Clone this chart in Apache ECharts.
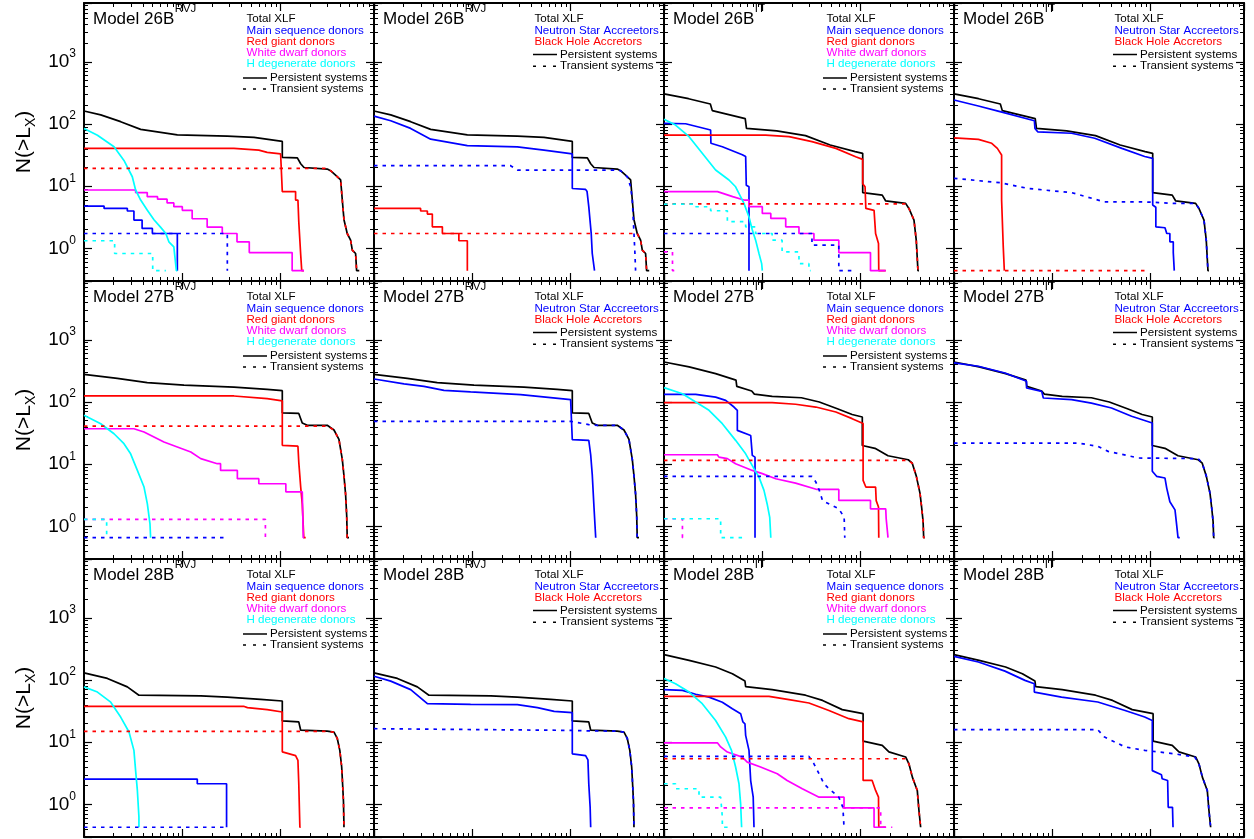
<!DOCTYPE html>
<html><head><meta charset="utf-8">
<script src="https://cdn.jsdelivr.net/npm/echarts@6/dist/echarts.min.js"></script>
<style>html,body{margin:0;padding:0;background:#fff}#c{width:1254px;height:839px}</style>
</head><body><div id="c"></div>
<script>
// ---------- axis extents / tick labels ----------
const xRange = [1, 891];
const yRange = [0.3, 8800];
const yTickExps = [0, 1, 2, 3];

// ---------- panel titles & legend texts ----------
const panelTitles = [
  ['Model 26B','RVJ'],['Model 26B','RVJ'],['Model 26B','IT'],['Model 26B','IT'],
  ['Model 27B','RVJ'],['Model 27B','RVJ'],['Model 27B','IT'],['Model 27B','IT'],
  ['Model 28B','RVJ'],['Model 28B','RVJ'],['Model 28B','IT'],['Model 28B','IT']
];
const donorLegend = ['Total XLF','Main sequence donors','Red giant donors','White dwarf donors','H degenerate donors'];
const accretorLegend = ['Total XLF','Neutron Star Accreetors','Black Hole Accretors'];
const styleLegend = ['Persistent systems','Transient systems'];

// ---------- data: [L_X (arb. units), N(>L_X)] ----------
// Model 26B RVJ
const tot26R = [[1,162],[1.48,140],[2.36,109],[3.77,82],[8.9,67],[28.7,64],[53.6,61],[104,52.5],[104,29],[148,28.5],[160,23],[173,20],[298,18.9],[322,17.8],[362,15.1],[408,12.6],[424,6.0],[441,2.9],[476,1.74],[515,1.36],[536,0.94],[579,0.83],[593,0.44],[630,0.44]];
const ms26R_P = [[1,4.8],[1.6,4.8],[1.6,4.4],[2.76,4.4],[2.76,4.0],[3.22,4.0],[3.22,2.86],[3.9,2.86],[3.9,2.1],[4.96,2.1],[4.96,1.74],[8.9,1.74],[8.9,0.44],[9.0,0.44]];
const ms26R_T = [[1,1.74],[28.7,1.74],[28.7,0.44]];
const rg26R_P = [[1,40.6],[33.5,40.6],[60,38],[73,35],[100,33],[104,32.5],[104,8.2],[142,8.2],[142,6.0],[150,6.0],[153,2.7],[160,0.8],[164,0.44],[173,0.44]];
const rg26R_T = [[1,19.4],[298,19.4],[322,17.8],[362,15.1],[408,12.6],[424,6.0],[441,2.9],[476,1.74],[515,1.36],[536,0.94],[579,0.83],[593,0.44],[630,0.44]];
const wd26R_P = [[1,8.7],[3.35,8.7],[3.35,7.9],[4.4,7.9],[4.4,6.8],[5.6,6.8],[5.6,6.2],[7.0,6.2],[7.0,5.4],[8.2,5.4],[8.2,4.7],[10,4.7],[10,4.1],[12.6,4.1],[12.6,3.0],[17.9,3.0],[17.9,2.2],[25.5,2.2],[25.5,1.74],[36,1.74],[36,1.28],[48,1.28],[48,0.86],[131,0.86],[131,0.44],[173,0.44]];
const hd26R_P = [[1,85],[1.37,66],[2.02,43],[2.55,26],[3.10,14.2],[3.35,8.7],[3.77,6.0],[4.41,4.1],[5.15,2.9],[6.0,2.2],[6.8,1.74],[7.3,1.28],[8.2,1.06],[8.55,0.57],[8.7,0.44],[8.9,0.44]];
const hd26R_T = [[1,1.33],[2.05,1.33],[2.05,0.83],[5.0,0.83],[5.0,0.44],[6.8,0.44]];
const ns26R_P = [[1,134],[1.48,113],[2.36,85],[3.77,57],[8.9,45],[28.7,43],[53.6,38],[104,33],[104,9.2],[142,8.9],[147,8.2],[153,4.7],[162,1.74],[166,0.83],[175,0.44]];
const ns26R_T = [[1,21.4],[24.5,21.4],[28.7,18.2],[298,18.2],[322,17.8],[377,14.2],[408,9.8],[424,6.0],[441,1.74],[451,0.83],[458,0.44]];
const bh26R_P = [[1,4.4],[2.98,4.4],[2.98,4.0],[3.49,4.0],[3.49,3.57],[3.92,3.57],[3.92,2.23],[4.96,2.23],[4.96,1.74],[7.3,1.74],[7.3,1.33],[8.9,1.33],[8.9,0.44]];
const bh26R_T = [[1,1.74],[476,1.74],[515,1.36],[536,0.94],[579,0.83],[593,0.44],[630,0.44]];

// Model 26B IT
const tot26I = [[1,304],[1.78,255],[2.96,210],[3.1,164],[6.7,122],[6.9,85],[14,77.6],[27.5,65],[49,46],[88,36],[105,33.8],[105,7.9],[166,7.2],[180,5.8],[287,5.3],[310,4.4],[349,2.86],[368,1.36],[383,0.44],[392,0.44]];
const ms26I_P = [[1,102],[1.66,101],[2.98,80],[3.0,49],[3.92,43],[6.26,32],[6.77,30],[6.87,10.4],[7.32,9.8],[7.32,0.44]];
const ms26I_T = [[1,1.74],[32,1.74],[32,1.13],[60,1.13],[60,0.44],[89,0.44]];
const rg26I_P = [[1,66.5],[10.8,66.5],[18.7,62.6],[32,52],[56,40.6],[89,29.8],[105,27],[105,11],[111,9.8],[113,4.4],[137,4.1],[142,1.74],[152,1.2],[153,0.44],[180,0.44]];
const rg26I_T = [[1,5.2],[287,5.2],[310,4.4],[349,2.86],[368,1.36],[383,0.44],[392,0.44]];
const wd26I_P = [[1,8.2],[3.5,8.2],[5.0,6.8],[6.5,6.0],[7.3,6.0],[7.3,4.7],[10,4.7],[10,3.66],[12.2,3.66],[12.2,3.04],[17.3,3.04],[17.3,2.23],[23.6,2.23],[23.6,1.74],[33.5,1.74],[33.5,1.36],[60,1.36],[60,0.86],[126,0.86],[126,0.44],[180,0.44]];
const wd26I_T = [[1,0.88],[1.22,0.88],[1.22,0.44],[1.37,0.44]];
const hd26I_P = [[1,119],[1.31,96],[1.8,62.6],[2.45,33.8],[3.35,18.2],[4.58,12.6],[5.35,9.8],[6.51,5.3],[7.32,3.2],[7.9,2.0],[8.55,1.36],[9.25,0.83],[9.85,0.57],[10,0.44]];
const hd26I_T = [[1,5.17],[2.1,5.17],[2.1,4.68],[2.98,4.68],[2.98,4.04],[4.41,4.04],[4.41,2.69],[6.77,2.69],[6.77,2.23],[8.55,2.23],[8.55,1.74],[12.6,1.74],[12.6,1.36],[15.9,1.36],[15.9,0.88],[23.6,0.88],[23.6,0.57],[29.8,0.57],[29.8,0.44],[31,0.44]];
const ns26I_P = [[1,243],[1.77,195],[2.94,158],[3.05,148],[6.57,113],[6.66,85],[7.1,75],[15.7,71],[27,59],[51,40.6],[87,30],[105,28],[105,5.0],[113,4.6],[113,2.23],[140,2.15],[146,1.74],[157,1.74],[157,1.28],[170,1.28],[170,0.86],[174,0.86],[174,0.44]];
const ns26I_T = [[1,13.4],[2.94,11.4],[5.7,9.2],[15.7,7.9],[34,5.6],[87,5.6],[177,5.3],[287,5.3],[310,4.4],[349,2.86],[368,1.36],[383,0.44],[392,0.44]];
const bh26I_P = [[1,60],[1.77,56.7],[2.42,49],[2.76,40.6],[3.05,31.7],[3.05,6.0],[3.17,1.06],[3.25,0.44]];
const bh26I_T = [[1,0.44],[87,0.44]];

// Model 27B RVJ
const tot27R = [[1,278],[2.18,240],[4.4,205],[10.4,187],[33.5,174],[73,160],[104,152],[104,67],[153,65.5],[166,46],[187,42.2],[298,42.2],[349,35.5],[392,25],[424,12],[441,6.5],[458,3.3],[470,1.5],[476,0.66],[496,0.66]];
const rg27R_P = [[1,125],[33.5,125],[73,113],[104,104],[104,20.1],[150,19.5],[153,10.8],[160,4.3],[166,2.3],[172,0.66],[180,0.66]];
const rg27R_T = [[1,41],[298,41],[349,35.5],[392,25],[424,12],[441,6.5],[458,3.3],[470,1.5],[476,0.66],[496,0.66]];
const wd27R_P = [[1,37.2],[3.22,37.2],[4.08,32.9],[5.15,27.4],[6.5,22.7],[8.9,18.9],[12.2,15.7],[15.4,12.3],[22.7,10.2],[24.5,10.2],[24.5,7.95],[36.3,7.95],[36.3,5.85],[60,5.85],[60,4.86],[113,4.86],[113,3.6],[166,3.6],[170,0.66],[173,0.66]];
const wd27R_T = [[1,1.30],[70,1.30],[70,0.66]];
const hd27R_P = [[1,61],[1.48,44.8],[2.02,30.9],[2.55,21.4],[2.98,14.7],[3.49,7.95],[4.08,4.3],[4.41,2.3],[4.69,1.1],[4.76,0.66]];
const hd27R_T = [[1,1.30],[1.70,1.30],[1.70,0.66]];
const ms27R_T = [[1,0.66],[26.5,0.66]];
const ns27R_P = [[1,234],[2.02,195],[3.22,178],[5.15,154],[9.6,145],[31,131],[100,109],[104,109],[104,24.8],[153,24.2],[160,14.2],[166,6.8],[173,2.0],[180,0.66]];
const ns27R_T = [[1,49],[100,49],[153,43.2],[187,42.2],[298,42.2],[349,35.5],[392,25],[424,12],[441,6.5],[458,3.3],[470,1.5],[476,0.66],[496,0.66]];

// Model 27B IT
const tot27I = [[1,440],[1.8,366],[3.35,286],[5.4,225],[5.5,178],[7.8,150],[8.3,134],[12.6,123],[25,117],[38,100],[58,78],[82,63],[104,57.5],[104,20],[140,18],[190,13.7],[305,11.8],[335,10.4],[368,6.5],[402,3.4],[418,2.0],[432,1.2],[438,0.66],[448,0.66]];
const ms27I_P = [[1,133],[2.1,133],[3.35,120],[4.24,106],[5.15,83],[5.57,73.5],[5.57,35],[7.62,29],[7.91,29],[7.91,13.9],[8.23,13],[8.43,13],[8.43,0.66]];
const ms27I_T = [[1,6.36],[32,6.36],[35,5.2],[38,3.8],[41,2.6],[60,1.92],[68,1.41],[69,0.66]];
const rg27I_P = [[1,97.5],[12.6,97.5],[21.8,92],[35,83],[56,69],[82,54],[106,45],[106,5.5],[113,4.3],[142,4.3],[144,2.6],[152,2.05],[153,0.66]];
const rg27I_T = [[1,11.5],[305,11.5],[335,10.4],[368,6.5],[402,3.4],[418,2.0],[432,1.2],[438,0.66],[448,0.66]];
const wd27I_P = [[1,14.2],[3.49,14.2],[3.62,13],[4.41,12.3],[5.35,10.2],[7.91,7.95],[10,7.06],[13.7,5.85],[21.8,4.98],[36,3.93],[60,3.93],[60,2.62],[126,2.62],[126,1.92],[180,1.92],[182,1.33],[190,0.66]];
const wd27I_T = [[1,1.33],[1.54,1.33],[1.54,0.66],[1.73,0.66]];
const hd27I_P = [[1,170],[1.54,136],[2.1,100],[2.87,73.5],[3.92,44.8],[5.35,24.2],[6.77,14.7],[8.23,8.5],[9.25,6.2],[10.4,3.8],[11.2,2.3],[11.9,1.4],[12.2,0.66]];
const hd27I_T = [[1,1.33],[3.77,1.33],[3.77,0.66],[6.5,0.66]];
const ns27I_P = [[1,424],[1.77,375],[3.3,293],[5.47,215],[5.47,168],[7.8,148],[8.1,116],[15.7,109],[25,96],[40,80],[64,59],[104,46],[104,7.7],[115,6.4],[140,6.0],[146,4.1],[157,2.5],[177,1.85],[184,1.06],[190,0.66],[198,0.66]];
const ns27I_T = [[1,21.9],[18.4,21.9],[29,19.4],[37,16.1],[75,12.6],[305,12.3],[335,10.4],[368,6.5],[402,3.4],[418,2.0],[432,1.2],[438,0.66],[448,0.66]];

// Model 28B RVJ
const tot28R = [[1,130],[1.73,106],[2.76,77.6],[3.62,57],[15.4,55.4],[28.7,53],[62.6,49],[104,46],[104,22],[153,21.2],[160,15.6],[298,15.1],[349,14.5],[377,11.5],[400,7.4],[418,4],[428,2],[436,1.1],[441,0.43],[448,0.43]];
const ms28R_P = [[1,2.56],[14.2,2.56],[14.2,2.15],[28.2,2.15],[28.2,0.43]];
const ms28R_T = [[1,0.43],[28.2,0.43]];
const rg28R_P = [[1,37.8],[42,37.8],[46,36],[73,33.4],[104,30.6],[104,7],[142,6.1],[150,5.1],[153,2.15],[157,0.43],[160,0.43]];
const rg28R_T = [[1,14.9],[298,14.9],[349,14.5],[377,11.5],[400,7.4],[418,4],[428,2],[436,1.1],[441,0.43],[448,0.43]];
const hd28R_P = [[1,77.6],[1.37,64],[1.87,44],[2.36,25.4],[2.87,14.6],[3.22,7.4],[3.35,3.5],[3.49,1.68],[3.62,0.63],[3.62,0.43]];
const ns28R_P = [[1,115],[1.48,96],[2.36,70],[3.49,41.6],[9.6,40.6],[28.7,40.2],[46,36],[68,31.3],[104,29.8],[104,6.5],[142,6.1],[150,5.2],[153,2.15],[158,0.9],[160,0.43]];
const ns28R_T = [[1,16.5],[104,15.5],[153,15.2],[298,15.1],[349,14.5],[377,11.5],[400,7.4],[418,4],[428,2],[436,1.1],[441,0.43],[448,0.43]];

// Model 28B IT
const tot28I = [[1,256],[1.8,207],[3.35,162],[4.96,126],[6.66,96],[6.77,78],[12.6,70],[27.5,57],[41,47],[65,33.4],[106,28.8],[106,10.4],[166,8.9],[194,7.0],[287,5.8],[310,4.5],[336,2.75],[377,1.68],[392,0.8],[408,0.43],[412,0.43]];
const ms28I_P = [[1,70],[1.54,68],[2.1,59],[2.87,53],[3.92,44],[4.96,34.5],[6.02,28.8],[6.35,21.2],[6.66,19.8],[6.77,12.9],[7.32,7.4],[7.62,2.4],[8.08,1.31],[8.23,0.43]];
const ms28I_T = [[1,5.92],[29.8,5.92],[33.5,4.5],[37.8,3.1],[42.4,2.15],[47.6,1.79],[60,1.31],[66,0.9],[67.8,0.43]];
const rg28I_P = [[1,54.6],[11.7,54.6],[18.7,48.3],[29.8,42.7],[47.6,32.4],[76,23.9],[106,21.2],[106,2.43],[131,2.43],[142,1.68],[152,1.31],[153,0.43],[180,0.43]];
const rg28I_T = [[1,5.43],[287,5.43],[310,4.5],[336,2.75],[377,1.68],[392,0.8],[408,0.43]];
const wd28I_P = [[1,9.8],[3.49,9.8],[3.77,8.4],[4.41,6.95],[6.26,5.77],[7.03,4.79],[9.6,4.0],[14.2,3.11],[17.9,2.43],[25.5,1.79],[37.8,1.31],[67.8,1.31],[67.8,0.88],[137,0.88],[137,0.43],[180,0.43]];
const wd28I_T = [[1,0.88],[160,0.88],[160,0.43],[210,0.43]];
const hd28I_P = [[1,106],[1.31,87],[1.8,64],[2.45,41.6],[3.35,22.4],[4.24,12.1],[4.86,7.4],[5.35,4.0],[5.79,2.15],[6.02,1.02],[6.16,0.43]];
const hd28I_T = [[1,2.15],[1.31,2.15],[1.31,1.79],[2.27,1.79],[2.27,1.31],[3.77,1.31],[3.92,0.63],[3.92,0.43],[4.96,0.43]];
const ns28I_P = [[1,240],[1.77,195],[3.3,139],[5.27,98.7],[6.56,87],[6.56,64],[12.4,53],[29,44.3],[55,32.4],[87,25.4],[104,22.4],[104,3.5],[129,3.0],[131,2.59],[149,2.43],[151,0.9],[167,0.9],[169,0.43]];
const ns28I_T = [[1,15.9],[29,15.9],[34,12.1],[55,8.4],[87,7.4],[177,6.5],[281,5.77],[310,4.5],[336,2.75],[377,1.68],[392,0.8],[408,0.43]];

// ---------- panel contents (row-major) ----------
const panelSeries = [
  [[tot26R,'k','P'],[ms26R_P,'b','P'],[rg26R_P,'r','P'],[wd26R_P,'m','P'],[hd26R_P,'c','P'],[ms26R_T,'b','T'],[rg26R_T,'r','T'],[hd26R_T,'c','T']],
  [[tot26R,'k','P'],[ns26R_P,'b','P'],[bh26R_P,'r','P'],[ns26R_T,'b','T'],[bh26R_T,'r','T']],
  [[tot26I,'k','P'],[ms26I_P,'b','P'],[rg26I_P,'r','P'],[wd26I_P,'m','P'],[hd26I_P,'c','P'],[ms26I_T,'b','T'],[rg26I_T,'r','T'],[wd26I_T,'m','T'],[hd26I_T,'c','T']],
  [[tot26I,'k','P'],[ns26I_P,'b','P'],[bh26I_P,'r','P'],[ns26I_T,'b','T'],[bh26I_T,'r','T']],
  [[tot27R,'k','P'],[rg27R_P,'r','P'],[wd27R_P,'m','P'],[hd27R_P,'c','P'],[ms27R_T,'b','T'],[rg27R_T,'r','T'],[wd27R_T,'m','T'],[hd27R_T,'c','T']],
  [[tot27R,'k','P'],[ns27R_P,'b','P'],[ns27R_T,'b','T']],
  [[tot27I,'k','P'],[ms27I_P,'b','P'],[rg27I_P,'r','P'],[wd27I_P,'m','P'],[hd27I_P,'c','P'],[ms27I_T,'b','T'],[rg27I_T,'r','T'],[wd27I_T,'m','T'],[hd27I_T,'c','T']],
  [[tot27I,'k','P'],[ns27I_P,'b','P'],[ns27I_T,'b','T']],
  [[tot28R,'k','P'],[ms28R_P,'b','P'],[rg28R_P,'r','P'],[hd28R_P,'c','P'],[ms28R_T,'b','T'],[rg28R_T,'r','T']],
  [[tot28R,'k','P'],[ns28R_P,'b','P'],[ns28R_T,'b','T']],
  [[tot28I,'k','P'],[ms28I_P,'b','P'],[rg28I_P,'r','P'],[wd28I_P,'m','P'],[hd28I_P,'c','P'],[ms28I_T,'b','T'],[rg28I_T,'r','T'],[wd28I_T,'m','T'],[hd28I_T,'c','T']],
  [[tot28I,'k','P'],[ns28I_P,'b','P'],[ns28I_T,'b','T']]
];

// ---------- layout & style ----------
const FONT = '"Liberation Sans", Arial, Helvetica, sans-serif';
const colors = {k:'#000000', b:'#0000ff', r:'#ff0000', m:'#ff00ff', c:'#00ffff'};
const legendColors = ['#000000','#0000ff','#ff0000','#ff00ff','#00ffff'];
const PW = 290, PH = 278, X0 = 84, Y0 = 3;
const dash = [3.5, 5];

// text measuring for placing the superscripts right after the titles
const mctx = document.createElement('canvas').getContext('2d');
function textWidth(txt, font) { mctx.font = font; return mctx.measureText(txt).width; }
const titleFont = '17px ' + FONT;
const supFont = '11.5px ' + FONT;

const grids = [], xAxes = [], yAxes = [], series = [], gfx = [];

function axisBase(k, pos, isX) {
  return {
    type: 'log', logBase: 10, gridIndex: k, position: pos,
    min: isX ? xRange[0] : yRange[0], max: isX ? xRange[1] : yRange[1],
    axisLine: {show: true, onZero: false, lineStyle: {color: '#000', width: 2}},
    axisTick: {show: true, inside: true, length: 8, lineStyle: {color: '#000', width: 1.2}},
    minorTick: {show: true, splitNumber: 9, length: 4, lineStyle: {color: '#000', width: 1}},
    splitLine: {show: false}, minorSplitLine: {show: false},
    axisLabel: {show: false}, silent: true
  };
}

for (let k = 0; k < 12; k++) {
  const r = Math.floor(k / 4), c = k % 4;
  const L = X0 + c * PW, T = Y0 + r * PH;
  grids.push({left: L, top: T, width: PW, height: PH, containLabel: false});
  xAxes.push(axisBase(k, 'bottom', true));
  xAxes.push(axisBase(k, 'top', true));
  const yl = axisBase(k, 'left', false);
  if (c === 0) {
    yl.axisLabel = {
      show: true, margin: 8, color: '#000', fontFamily: FONT, fontSize: 19, lineHeight: 28,
      formatter: function (v) {
        const lg = Math.log10(v), e = Math.round(lg);
        if (Math.abs(lg - e) > 1e-6 || yTickExps.indexOf(e) < 0) return '';
        return '{b|10}{sup|' + e + '}';
      },
      rich: {
        b: {fontSize: 19, lineHeight: 28, fontFamily: FONT, color: '#000'},
        sup: {fontSize: 12, lineHeight: 12, verticalAlign: 'top', fontFamily: FONT, color: '#000'}
      }
    };
    yl.name = '{n|N(>L}{sub|X}{n|)}';
    yl.nameLocation = 'middle';
    yl.nameGap = 46;
    yl.nameRotate = 90;
    yl.nameTextStyle = {fontSize: 21, color: '#000', fontFamily: FONT, lineHeight: 28,
      rich: {
        n: {fontSize: 21, lineHeight: 28, fontFamily: FONT, color: '#000'},
        sub: {fontSize: 14, lineHeight: 14, verticalAlign: 'bottom', fontFamily: FONT, color: '#000'}
      }};
  }
  yAxes.push(yl);
  yAxes.push(axisBase(k, 'right', false));

  panelSeries[k].forEach(function (s) {
    series.push({
      type: 'line', xAxisIndex: 2 * k, yAxisIndex: 2 * k, data: s[0],
      symbol: 'none', silent: true, animation: false, z: 2 + (s[2] === 'T' ? 1 : 0),
      lineStyle: {color: colors[s[1]], width: 1.7, type: s[2] === 'T' ? dash : 'solid'}
    });
  });

  // panel title with superscript
  const tw = textWidth(panelTitles[k][0], titleFont);
  gfx.push({type: 'text', x: L + 9, y: T + 16, silent: true, z: 10,
    style: {text: panelTitles[k][0], fill: '#000', font: titleFont,
      verticalAlign: 'middle', textVerticalAlign: 'middle'}});
  gfx.push({type: 'text', x: L + 9 + tw + 0.5, y: T + 5.8, silent: true, z: 10,
    style: {text: panelTitles[k][1], fill: '#000', font: supFont,
      verticalAlign: 'middle', textVerticalAlign: 'middle'}});

  const donor = (c === 0 || c === 2);
  const items = donor ? donorLegend : accretorLegend;
  const ys = donor ? [15.5, 27.8, 39, 50.2, 60.5] : [15.5, 27.5, 38.8];
  const lys = donor ? [75, 86] : [51.5, 63.2];
  const tx = L + (donor ? 162.5 : 160.5);
  items.forEach(function (txt, i) {
    gfx.push({type: 'text', x: tx, y: T + ys[i], silent: true, z: 10,
      style: {text: txt, fill: legendColors[i], font: '11.6px ' + FONT,
        verticalAlign: 'middle', textVerticalAlign: 'middle'}});
  });
  styleLegend.forEach(function (txt, i) {
    gfx.push({type: 'line', silent: true, z: 10,
      shape: {x1: L + 159, y1: T + lys[i], x2: L + 183, y2: T + lys[i]},
      style: {stroke: '#000', lineWidth: 1.5, lineDash: i === 1 ? [3, 7] : null}});
    gfx.push({type: 'text', x: L + 186, y: T + lys[i], silent: true, z: 10,
      style: {text: txt, fill: '#000', font: '11.6px ' + FONT,
        verticalAlign: 'middle', textVerticalAlign: 'middle'}});
  });
}

const chart = echarts.init(document.getElementById('c'), null, {renderer: 'canvas'});
chart.setOption({
  animation: false,
  backgroundColor: '#ffffff',
  grid: grids,
  xAxis: xAxes,
  yAxis: yAxes,
  series: series,
  graphic: {elements: gfx}
});
</script>
</body></html>
